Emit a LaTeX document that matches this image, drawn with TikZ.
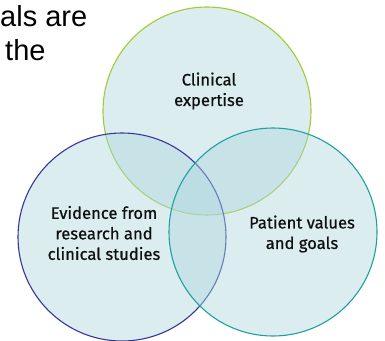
\documentclass[tikz,border=0pt]{standalone}
\usepackage{fontspec}
\setmainfont{Fira Sans}
\newfontfamily\lblfont{Fira Sans}[FakeBold=0.6]
\newfontfamily\arialfont{Liberation Sans}
\definecolor{vfill}{RGB}{174,215,222}
\definecolor{cgreen}{RGB}{160,204,50}
\definecolor{cblue}{RGB}{55,55,155}
\definecolor{cteal}{RGB}{30,160,160}
\definecolor{txt}{RGB}{15,15,15}
\tikzset{
  venn/.style={circle, minimum size=208pt, inner sep=0pt, fill=vfill, fill opacity=0.43, line width=1.1pt},
  lbl/.style={align=center, text=txt, font=\lblfont\fontsize{16.6}{20.5}\selectfont, inner sep=0pt},
  head/.style={anchor=base west, inner sep=0pt, text=black, font=\arialfont\fontsize{29}{33}\selectfont}
}
\begin{document}
\begin{tikzpicture}[x=1pt,y=-1pt]
\useasboundingbox (0,0) rectangle (385,340);
\fill[white] (0,0) rectangle (385,340);
\node[head] (h1) at (0,27) {als are};
\node[head] (h2) at (5,60) {the};
\node[venn, draw=cgreen] (expert) at (207,111) {};
\node[venn, draw=cblue] (evid) at (122,237) {};
\node[venn, draw=cteal] (pat) at (273,232) {};
\node[lbl] (t1) at (209,91) {Clinical\\expertise};
\node[lbl] (t2) at (104,233) {Evidence from\\research and\\clinical studies};
\node[lbl] (t3) at (302,234) {Patient values\\and goals};
\end{tikzpicture}
\end{document}
